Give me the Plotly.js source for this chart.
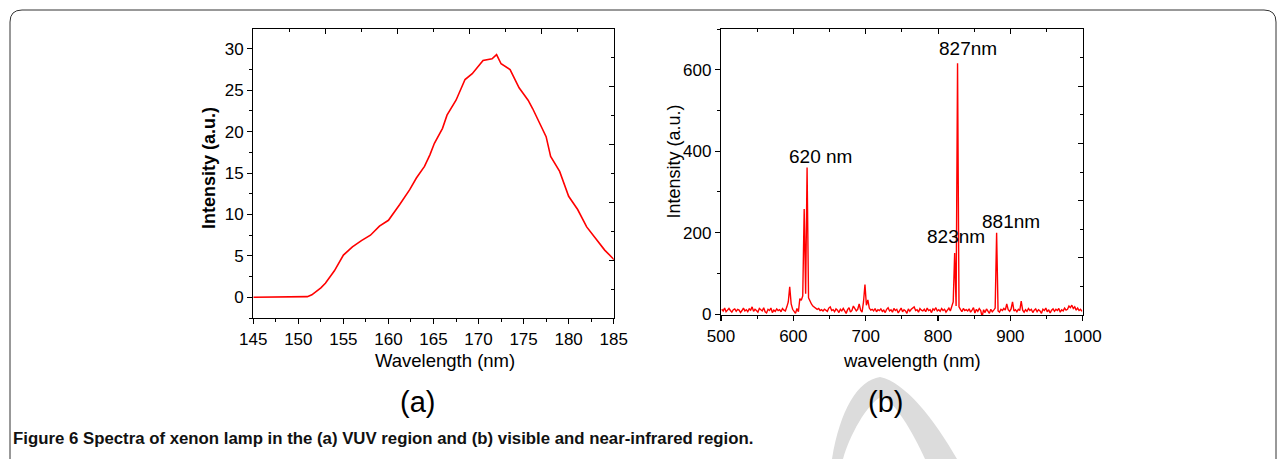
<!DOCTYPE html>
<html>
<head>
<meta charset="utf-8">
<script src="https://cdn.plot.ly/plotly-3.0.1.min.js"></script>
<style>
  html, body { margin: 0; padding: 0; background: #fff; }
  #chart { width: 1281px; height: 459px; }
</style>
</head>
<body>
<div id="chart"></div>
<script>
// ---------- Data ----------
// (a) VUV spectrum
const vuvWavelength = [145, 146, 147, 148, 149, 150, 151, 151.5, 152, 152.5, 153, 154, 155, 156, 157, 158, 159, 160,
  161.25, 162.36, 163.1, 164, 164.6, 165.1, 166, 166.5, 167.5, 168.5, 169.3, 170, 170.5, 171.5, 172, 172.5, 173.5,
  174.5, 175.5, 176, 176.5, 177.5, 178, 179, 180, 181, 182, 183, 184, 185, 185.4];
const vuvIntensity = [0, 0, 0, 0, 0, 0.02, 0.08, 0.3, 0.7, 1.15, 1.7, 3.2, 5.1, 6.1, 6.85, 7.5, 8.6, 9.3,
  11.2, 13.0, 14.4, 15.8, 17.2, 18.6, 20.4, 22.0, 23.8, 26.3, 27.0, 28.0, 28.6, 28.8, 29.3, 28.2, 27.5,
  25.3, 23.8, 22.8, 21.6, 19.4, 17.0, 15.2, 12.2, 10.6, 8.5, 7.1, 5.7, 4.6, 3.9];

// (b) visible / near-infrared spectrum, sampled every 2 nm from 501 nm
const visStart = 501;
const visStep = 2;
const visIntensity = [
  12, 8, 15, 6, 10, 14, 9, 5, 11, 13,       // 501-519
  7, 12, 10, 4, 9, 15, 8, 11, 6, 13,        // 521-539
  10, 18, 7, 12, 9, 5, 14, 11, 8, 16,       // 541-559
  6, 3, 12, 9, 15, 4, 10, 7, 13, 9,         // 561-579
  11, 6, 14, 10, 8, 18, 30, 67, 25, 12,     // 581-599
  8, 2, 14, 6, 38, 34, 45, 258, 50, 360,    // 601-619
  40, 30, 25, 20, 18, 15, 12, 14, 9, 11,    // 621-639
  8, 12, 10, 7, 15, 18, 9, 11, 6, 13,       // 641-659
  10, 4, 12, 8, 14, 7, 2, 11, 16, 5,        // 661-679
  9, 20, 15, 8, 12, 25, 10, 5, 30, 73,      // 681-699
  22, 35, 15, 10, 12, 8, 14, 6, 11, 9,      // 701-719
  13, 7, 10, 4, 12, 16, 8, 11, 5, 14,       // 721-739
  9, 12, 3, 10, 15, 6, 11, 8, 2, 13,        // 741-759
  7, 12, 16, 18, 9, 11, 5, 14, 10, 8,       // 761-779
  12, 6, 15, 9, 11, 4, 13, 10, 16, 8,       // 781-799
  11, 7, 14, 9, 12, 5, 10, 15, 8, 18,       // 801-819
  30, 150, 20, 616, 18, 12, 6, 14, 9, 11,   // 821-839
  8, 13, 5, 10, 16, 3, 12, 7, 14, 9,        // 841-859
  -6, 11, 4, 13, 8, 2, 12, 6, 10, 15,       // 861-879
  200, 8, 5, 12, 9, 14, 10, 25, 11, 7,      // 881-899
  13, 30, 8, 11, 6, 12, 9, 32, 10, 5,       // 901-919
  11, 7, 14, 9, 12, 4, 10, 13, 6, 11,       // 921-939
  8, 2, 12, 9, 15, 6, 11, 3, 10, 13,        // 941-959
  7, 12, 9, 14, 5, 11, 8, 15, 10, 12,       // 961-979
  20, 16, 22, 14, 18, 10, 15, 9, 12, 7      // 981-999
];
const visWavelength = visIntensity.map((_, i) => visStart + i * visStep);

// Texts
const peakLabels = ["827nm", "620 nm", "823nm", "881nm"];
const panelLabels = ["(a)", "(b)"];
const captionBold = "Figure 6 Spectra of xenon lamp in the (a) VUV region and (b) visible and near-infrared region.";

// ---------- Layout helpers (pixel -> paper) ----------
const W = 1281, H = 459;
const px = x => x / W;
const py = y => 1 - y / H;

const FONT = "Liberation Sans, Arial, Helvetica, sans-serif";
const RED = "#ff0000";

const traces = [
  { x: vuvWavelength, y: vuvIntensity, type: "scatter", mode: "lines",
    line: { color: RED, width: 1.6 }, xaxis: "x", yaxis: "y", hoverinfo: "x+y" },
  { x: visWavelength, y: visIntensity, type: "scatter", mode: "lines",
    line: { color: RED, width: 1.4 }, xaxis: "x2", yaxis: "y2", hoverinfo: "x+y" },
  // empty traces so that the mirrored tick axes are drawn
  { x: [], y: [], xaxis: "x3", yaxis: "y3", type: "scatter", showlegend: false },
  { x: [], y: [], xaxis: "x4", yaxis: "y4", type: "scatter", showlegend: false }
];

const dA = [px(253.3), px(613.7)];
const dAy = [py(318), py(29)];
const dB = [px(721), px(1082.7)];
const dBy = [py(315), py(29)];

const mainAxis = {
  showline: true, linecolor: "#000", linewidth: 1.2, mirror: true,
  showgrid: false, zeroline: false, ticks: "outside", ticklen: 5, tickwidth: 1.1,
  tickcolor: "#000", tickfont: { family: FONT, size: 17, color: "#000" },
  minor: { ticks: "outside", ticklen: 3, tickwidth: 1, tickcolor: "#000" }
};
const mirrorAxis = {
  showline: false, showgrid: false, zeroline: false, showticklabels: false,
  ticks: "inside", ticklen: 5, tickwidth: 1, tickcolor: "#000",
  range: [0, 10], dtick: 2, tick0: 0, fixedrange: true,
  minor: { ticks: "inside", ticklen: 3, dtick: 1, tickcolor: "#000" }
};

function label(text, x, y, size, extra) {
  return Object.assign({ text: text, x: px(x), y: py(y), xref: "paper", yref: "paper", showarrow: false,
    xanchor: "center", yanchor: "middle", font: { family: FONT, size: size, color: "#000" } }, extra || {});
}

const layout = {
  width: W, height: H,
  margin: { l: 0, r: 0, t: 0, b: 0 },
  paper_bgcolor: "#fff", plot_bgcolor: "rgba(0,0,0,0)",
  showlegend: false,
  xaxis: Object.assign({}, mainAxis, { domain: dA, anchor: "y", range: [145, 185], dtick: 5, tick0: 145,
    minor: Object.assign({}, mainAxis.minor, { dtick: 2.5 }) }),
  yaxis: Object.assign({}, mainAxis, { domain: dAy, anchor: "x", range: [-2.5, 32.4], dtick: 5, tick0: 0,
    minor: Object.assign({}, mainAxis.minor, { dtick: 2.5 }) }),
  xaxis2: Object.assign({}, mainAxis, { domain: dB, anchor: "y2", range: [500, 1000], dtick: 100, tick0: 500,
    minor: Object.assign({}, mainAxis.minor, { dtick: 50 }) }),
  yaxis2: Object.assign({}, mainAxis, { domain: dBy, anchor: "x2", range: [-2, 700], dtick: 200, tick0: 0,
    minor: Object.assign({}, mainAxis.minor, { dtick: 100 }) }),
  xaxis3: Object.assign({}, mirrorAxis, { overlaying: "x", side: "top", anchor: "y" }),
  yaxis3: Object.assign({}, mirrorAxis, { overlaying: "y", side: "right", anchor: "x" }),
  xaxis4: Object.assign({}, mirrorAxis, { overlaying: "x2", side: "top", anchor: "y2" }),
  yaxis4: Object.assign({}, mirrorAxis, { overlaying: "y2", side: "right", anchor: "x2" }),
  annotations: [
    // axis titles
    label("Wavelength (nm)", 445, 360, 18.5),
    label("<b>Intensity (a.u.)</b>", 209.5, 167.5, 18, { textangle: -90 }),
    label("wavelength (nm)", 912, 360, 18.5),
    label("Intensity (a.u.)", 673.5, 162, 18, { textangle: -90 }),
    // peak labels
    label(peakLabels[0], 968, 48.5, 19),
    label(peakLabels[1], 820, 156, 19),
    label(peakLabels[2], 955.5, 236.5, 19),
    label(peakLabels[3], 1010.5, 221.5, 19),
    // panel labels
    label(panelLabels[0], 418, 402, 29),
    label(panelLabels[1], 885, 402, 29),
    // caption
    label("<b>" + captionBold + "</b>", 11, 438, 16.8, { xanchor: "left",
      font: { family: FONT, size: 16.8, color: "#111" } })
  ],
  shapes: [
    // figure border (rounded, open at the bottom)
    { type: "path", xref: "paper", yref: "paper", layer: "below",
      path: `M ${px(10)},${py(470)} L ${px(10)},${py(22)} Q ${px(10)},${py(10)} ${px(22)},${py(10)} ` +
            `L ${px(1264)},${py(10)} Q ${px(1276)},${py(10)} ${px(1276)},${py(22)} L ${px(1276)},${py(470)}`,
      line: { color: "#333", width: 1 } },
    // light grey watermark fragment
    { type: "path", xref: "paper", yref: "paper", layer: "below",
      path: `M ${px(832)},${py(459)} C ${px(840)},${py(410)} ${px(858)},${py(380)} ${px(880)},${py(377)} ` +
            `C ${px(905)},${py(382)} ${px(935)},${py(420)} ${px(957)},${py(459)} ` +
            `L ${px(925)},${py(459)} C ${px(912)},${py(430)} ${px(895)},${py(403)} ${px(882)},${py(396)} ` +
            `C ${px(866)},${py(405)} ${px(850)},${py(435)} ${px(843)},${py(459)} Z`,
      fillcolor: "#dcdcdc", line: { width: 0 } }
  ]
};

Plotly.newPlot("chart", traces, layout, { displayModeBar: false, staticPlot: true });
</script>
</body>
</html>
